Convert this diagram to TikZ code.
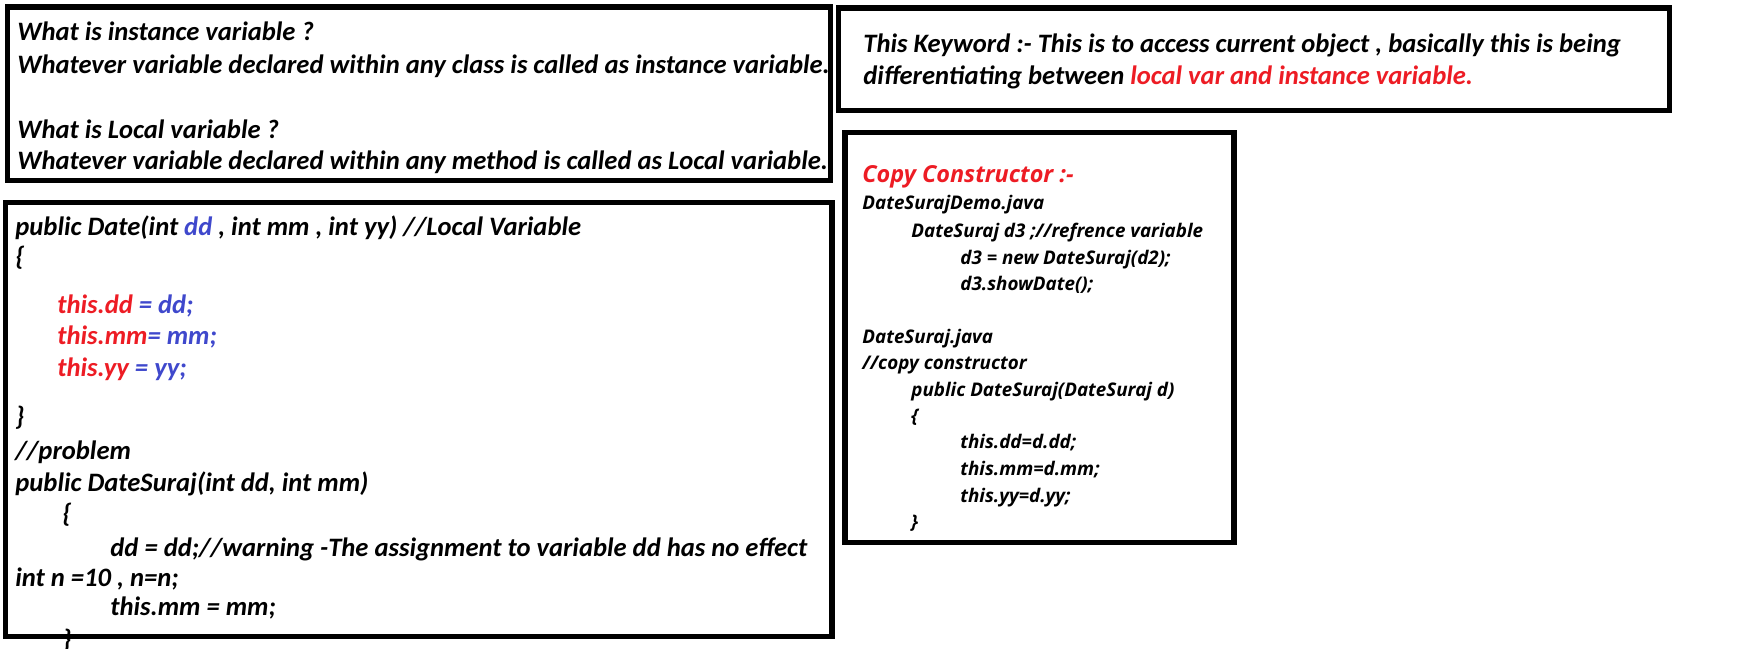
\documentclass[tikz,border=0pt]{standalone}
\usepackage{fontspec}
\setmainfont{Carlito}
\newfontfamily\segfont{Open Sans}
\definecolor{pred}{HTML}{ED1C24}
\definecolor{pblue}{HTML}{3F48CC}

\begin{document}
\begin{tikzpicture}[x=0.5pt,y=-0.5pt,
    frame/.style={line width=2.6pt},
    txt/.style={anchor=base west,inner sep=0pt,font=\fontsize{13.3}{15}\selectfont\bfseries\itshape},
    code/.style={anchor=base west,inner sep=0pt,font=\segfont\fontsize{9.4}{11}\selectfont\bfseries\itshape}]
    \useasboundingbox (0,0) rectangle (1760,648);
    \draw[frame] (7.5,7) rectangle (830.5,180.5);
    \draw[frame] (5.5,202.5) rectangle (832,636.5);
    \draw[frame] (838.5,8) rectangle (1669.5,110.5);
    \draw[frame] (845,132.5) rectangle (1234,542.5);
    \node[txt] (q1) at (17,40) {What is instance variable ?};
    \node[txt] (a1) at (17,73) {Whatever variable declared within any class is called as instance variable.};
    \node[txt] (q2) at (17,138) {What is Local variable ?};
    \node[txt] (a2) at (17,169) {Whatever variable declared within any method is called as Local variable.};
    \node[txt] (c1) at (15,235) {public Date(int \textcolor{pblue}{dd} , int mm , int yy) //Local Variable};
    \node[txt] (c2) at (15,265) {\{};
    \node[txt] (c3) at (57,313) {\textcolor{pred}{this.dd} \textcolor{pblue}{= dd;}};
    \node[txt] (c4) at (57,344) {\textcolor{pred}{this.mm}\textcolor{pblue}{= mm;}};
    \node[txt] (c5) at (57,376) {\textcolor{pred}{this.yy} \textcolor{pblue}{= yy;}};
    \node[txt] (c6) at (15,425) {\}};
    \node[txt] (c7) at (15,459) {//problem};
    \node[txt] (c8) at (15,491) {public DateSuraj(int dd, int mm)};
    \node[txt] (c9) at (62,522) {\{};
    \node[txt] (c10) at (110,556) {dd = dd;//warning -The assignment to variable dd has no effect};
    \node[txt] (c11) at (15,586) {int n =10 , n=n;};
    \node[txt] (c12) at (110,615) {this.mm = mm;};
    \node[txt] (c13) at (62,648) {\}};
    \node[txt] (k1) at (863,52) {This Keyword :- This is to access current object , basically this is being};
    \node[txt] (k2) at (863,84) {differentiating between \textcolor{pred}{local var and instance variable.}};
    \node[code,font=\segfont\fontsize{11.7}{14}\selectfont\bfseries\itshape,text=pred] (t) at (862,182) {Copy Constructor :-};
    \node[code] (d1) at (862,209.5) {DateSurajDemo.java};
    \node[code] (d2) at (911,237) {DateSuraj d3 ;//refrence variable};
    \node[code] (d3) at (960,264) {d3 = new DateSuraj(d2);};
    \node[code] (d4) at (960,290.5) {d3.showDate();};
    \node[code] (s1) at (862,343.5) {DateSuraj.java};
    \node[code] (s2) at (862,369.5) {//copy constructor};
    \node[code] (s3) at (911,396) {public DateSuraj(DateSuraj d)};
    \node[code] (s4) at (911,422.5) {\{};
    \node[code] (s5) at (960,448.5) {this.dd=d.dd;};
    \node[code] (s6) at (960,475) {this.mm=d.mm;};
    \node[code] (s7) at (960,502) {this.yy=d.yy;};
    \node[code] (s8) at (911,528) {\}};
\end{tikzpicture}
\end{document}
